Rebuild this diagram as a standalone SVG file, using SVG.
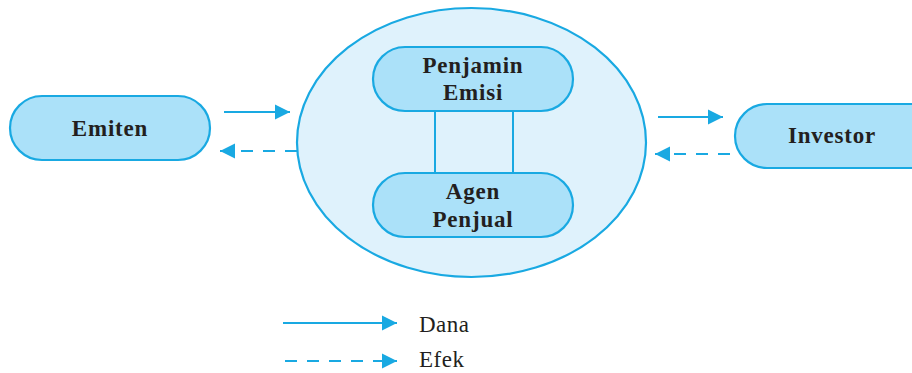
<svg xmlns="http://www.w3.org/2000/svg" width="912" height="373" viewBox="0 0 912 373">
  <style>
    .node { fill: #abe1f9; stroke: #19a9e2; stroke-width: 2.2; }
    .group { fill: #dff2fc; stroke: #19a9e2; stroke-width: 2.2; }
    .label { font-family: "Liberation Serif", "Times New Roman", serif; font-size: 23px; font-weight: bold; fill: #231f20; text-anchor: middle; letter-spacing: 0.8px; }
    .legend { font-family: "Liberation Serif", "Times New Roman", serif; font-size: 23px; fill: #231f20; letter-spacing: 0.5px; }
    .link { fill: none; stroke: #19a9e2; stroke-width: 2; }
    .dana { marker-end: url(#head); }
    .efek { stroke-dasharray: 12 10; marker-end: url(#head); }
  </style>
  <defs>
    <marker id="head" markerUnits="userSpaceOnUse" markerWidth="16" markerHeight="16" refX="15" refY="8" orient="auto">
      <path d="M0,0.5 L15,8 L0,15.5 Z" fill="#19a9e2"/>
    </marker>
  </defs>

  <rect width="912" height="373" fill="#ffffff"/>

  <!-- outer grouping: underwriter and selling agent -->
  <g id="lembaga">
    <ellipse class="group" cx="471.5" cy="142.5" rx="174.5" ry="134.5"/>
  </g>

  <g id="connectors">
    <!-- link between Penjamin Emisi and Agen Penjual -->
    <line class="link" x1="435" y1="111" x2="435" y2="173"/>
    <line class="link" x1="513" y1="111" x2="513" y2="173"/>
    <!-- Emiten side -->
    <line class="link dana" x1="224" y1="112" x2="290" y2="112"/>
    <line class="link efek" x1="297" y1="151" x2="220" y2="151"/>
    <!-- Investor side -->
    <line class="link dana" x1="658" y1="117" x2="723" y2="117"/>
    <line class="link efek" x1="752" y1="154" x2="655" y2="154"/>
    <!-- legend -->
    <line class="link dana" x1="283" y1="323" x2="397" y2="323"/>
    <line class="link efek" x1="285" y1="361" x2="397" y2="361"/>
  </g>

  <g id="emiten">
    <rect class="node" x="10" y="96" width="200" height="64" rx="32"/>
    <text class="label" x="110" y="136">Emiten</text>
  </g>

  <g id="penjamin-emisi">
    <rect class="node" x="373" y="47" width="200" height="64" rx="32"/>
    <text class="label" x="473" y="73">Penjamin</text>
    <text class="label" x="473" y="100">Emisi</text>
  </g>

  <g id="agen-penjual">
    <rect class="node" x="373" y="173" width="200" height="64" rx="32"/>
    <text class="label" x="473" y="199">Agen</text>
    <text class="label" x="473" y="227">Penjual</text>
  </g>

  <g id="investor">
    <rect class="node" x="735" y="104" width="210" height="64" rx="32"/>
    <text class="label" x="832" y="143">Investor</text>
  </g>

  <g id="keterangan">
    <text class="legend" x="419" y="332">Dana</text>
    <text class="legend" x="419" y="367">Efek</text>
  </g>
</svg>
